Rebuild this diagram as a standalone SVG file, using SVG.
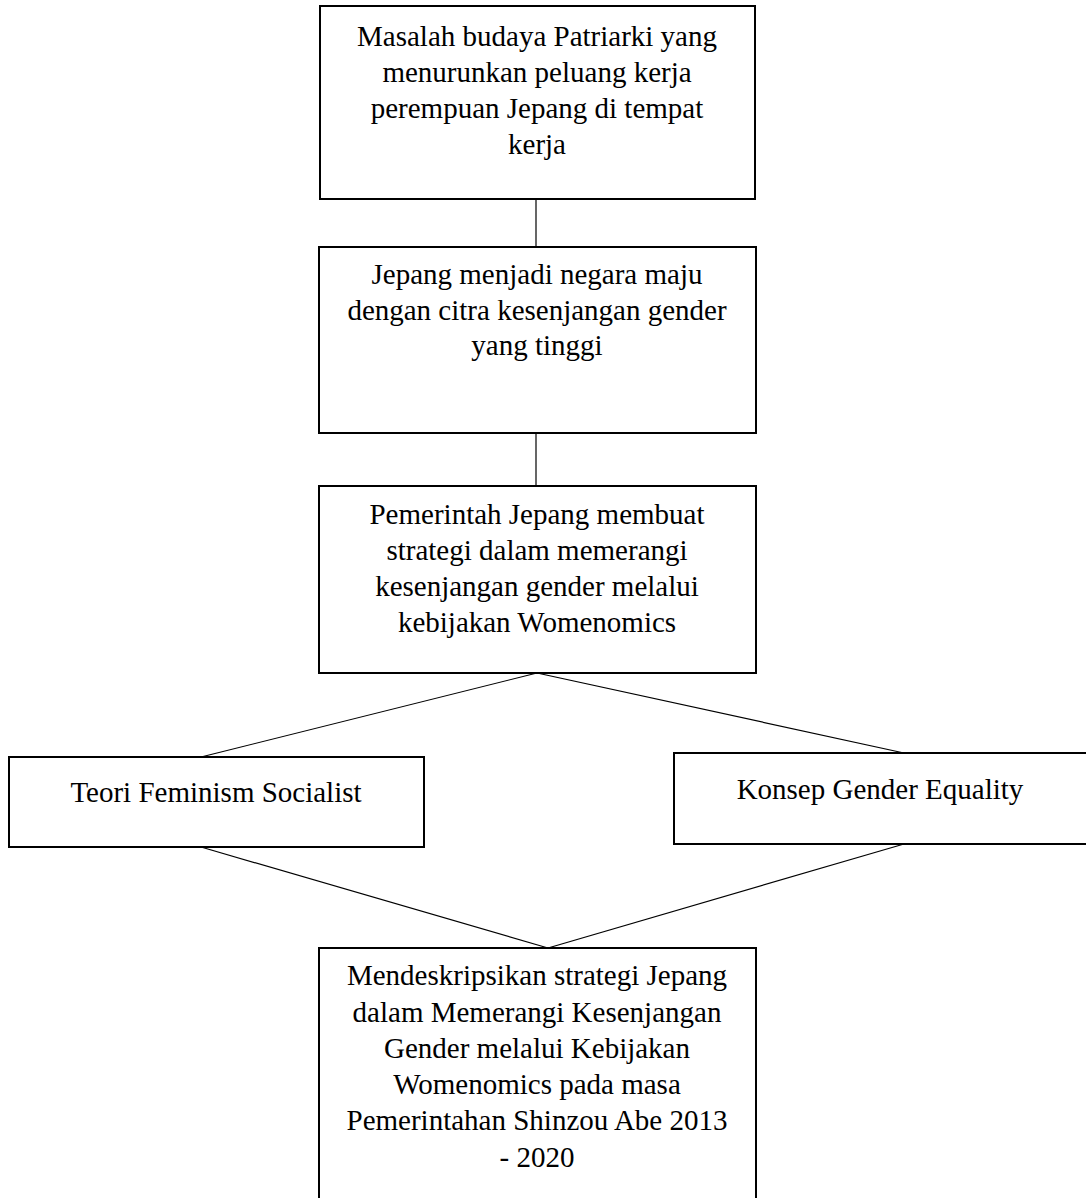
<svg xmlns="http://www.w3.org/2000/svg" width="1086" height="1198" viewBox="0 0 1086 1198">
<style>
.box{fill:#fff;stroke:#000;stroke-width:2}
.conn line{stroke:#000;stroke-width:1.2}
text{font-family:"Liberation Serif","Times New Roman",serif;font-size:29px;fill:#000;text-anchor:middle}
</style>
<rect width="1086" height="1198" fill="#fff"/>
<g class="conn" id="connectors">
<line x1="536" y1="199" x2="536" y2="247"/>
<line x1="536" y1="433" x2="536" y2="486"/>
<line x1="537" y1="673" x2="201" y2="757"/>
<line x1="537" y1="673" x2="904" y2="753"/>
<line x1="201" y1="847" x2="548" y2="948"/>
<line x1="904" y1="844" x2="548" y2="948"/>
</g>
<g id="node1">
<rect class="box" x="320" y="6" width="435" height="193"/>
<text x="537" y="46">Masalah budaya Patriarki yang</text>
<text x="537" y="82">menurunkan peluang kerja</text>
<text x="537" y="118">perempuan Jepang di tempat</text>
<text x="537" y="154">kerja</text>
</g>
<g id="node2">
<rect class="box" x="319" y="247" width="437" height="186"/>
<text x="537" y="284">Jepang menjadi negara maju</text>
<text x="537" y="320">dengan citra kesenjangan gender</text>
<text x="537" y="355">yang tinggi</text>
</g>
<g id="node3">
<rect class="box" x="319" y="486" width="437" height="187"/>
<text x="537" y="524">Pemerintah Jepang membuat</text>
<text x="537" y="560">strategi dalam memerangi</text>
<text x="537" y="596">kesenjangan gender melalui</text>
<text x="537" y="632">kebijakan Womenomics</text>
</g>
<g id="node4">
<rect class="box" x="9" y="757" width="415" height="90"/>
<text x="216" y="802">Teori Feminism Socialist</text>
</g>
<g id="node5">
<rect class="box" x="674" y="753" width="420" height="91"/>
<text x="880" y="799">Konsep Gender Equality</text>
</g>
<g id="node6">
<rect class="box" x="319" y="948" width="437" height="260"/>
<text x="537" y="985">Mendeskripsikan strategi Jepang</text>
<text x="537" y="1022">dalam Memerangi Kesenjangan</text>
<text x="537" y="1058">Gender melalui Kebijakan</text>
<text x="537" y="1094">Womenomics pada masa</text>
<text x="537" y="1130">Pemerintahan Shinzou Abe 2013</text>
<text x="537" y="1167">- 2020</text>
</g>
</svg>
